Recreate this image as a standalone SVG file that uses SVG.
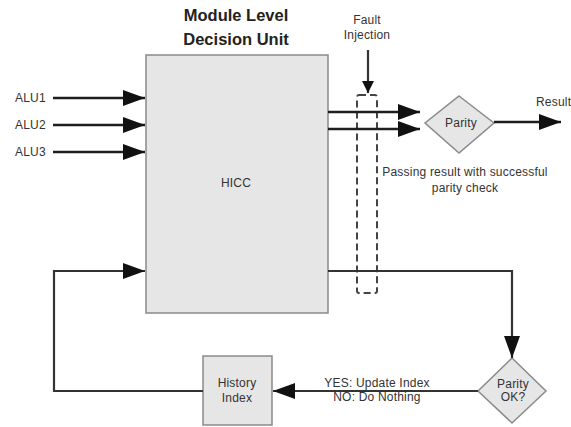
<svg xmlns="http://www.w3.org/2000/svg" width="571" height="427" viewBox="0 0 571 427">
  <style>
    .box { fill: #e6e6e6; stroke: #8a8a8a; stroke-width: 1.5; }
    .wire { fill: none; stroke: #1e1e1e; stroke-width: 2.5; }
    .thin { fill: none; stroke: #333; stroke-width: 2.2; }
    .dash { fill: none; stroke: #444; stroke-width: 2; stroke-dasharray: 7 4; }
    .lbl { font-family: "Liberation Sans", Arial, sans-serif; font-size: 12px; fill: #333; letter-spacing: 0.2px; }
    .title { font-family: "Liberation Sans", Arial, sans-serif; font-size: 16.5px; font-weight: bold; fill: #222; text-anchor: middle; }
    .mid { text-anchor: middle; }
  </style>
  <defs>
    <marker id="arrow" markerUnits="userSpaceOnUse" markerWidth="24" markerHeight="16" refX="22" refY="8" orient="auto">
      <path d="M0,0 L22,8 L0,16 Z" fill="#111"/>
    </marker>
    <marker id="arrowSm" markerUnits="userSpaceOnUse" markerWidth="14" markerHeight="14" refX="12" refY="6" orient="auto">
      <path d="M0,0 L12,6 L0,12 Z" fill="#111"/>
    </marker>
  </defs>

  <rect width="571" height="427" fill="#fff"/>

  <!-- title -->
  <text class="title" x="236" y="21">Module Level</text>
  <text class="title" x="236" y="45">Decision Unit</text>

  <!-- decision unit -->
  <g id="hicc">
    <rect class="box" x="146" y="55" width="182" height="258"/>
    <text class="lbl mid" x="236" y="187">HICC</text>
  </g>

  <!-- fault injection zone -->
  <g id="fault">
    <text class="lbl mid" x="367" y="24" font-size="11">Fault</text>
    <text class="lbl mid" x="367" y="39" font-size="11">Injection</text>
    <rect class="dash" x="357" y="95" width="20" height="198" rx="2"/>
  </g>

  <g id="parity">
    <polygon class="box" points="459,96 494,123 459,153 425,123"/>
    <text class="lbl mid" x="461" y="127">Parity</text>
  </g>

  <g id="parity-ok">
    <polygon class="box" points="512,358 546,391 512,423 478,391"/>
    <text class="lbl mid" x="513" y="388">Parity</text>
    <text class="lbl mid" x="513" y="401">OK?</text>
  </g>

  <g id="history">
    <rect class="box" x="203" y="356" width="69" height="69"/>
    <text class="lbl mid" x="237" y="387" font-size="11">History</text>
    <text class="lbl mid" x="237" y="402" font-size="11">Index</text>
  </g>

  <g id="labels">
    <text class="lbl" x="15" y="102" letter-spacing="1">ALU1</text>
    <text class="lbl" x="15" y="129" letter-spacing="1">ALU2</text>
    <text class="lbl" x="15" y="156" letter-spacing="1">ALU3</text>
    <text class="lbl" x="536" y="106">Result</text>
    <text class="lbl mid" x="465" y="176">Passing result with successful</text>
    <text class="lbl mid" x="465" y="192">parity check</text>
    <text class="lbl mid" x="377" y="387" letter-spacing="0.3">YES: Update Index</text>
    <text class="lbl mid" x="377" y="401" letter-spacing="0.3">NO: Do Nothing</text>
  </g>

  <g id="connectors">
    <line class="wire" x1="53" y1="98" x2="145" y2="98" marker-end="url(#arrow)"/>
    <line class="wire" x1="53" y1="125" x2="145" y2="125" marker-end="url(#arrow)"/>
    <line class="wire" x1="53" y1="152" x2="145" y2="152" marker-end="url(#arrow)"/>
    <line class="wire" x1="328" y1="112" x2="420" y2="112" marker-end="url(#arrow)"/>
    <line class="wire" x1="328" y1="129" x2="420" y2="129" marker-end="url(#arrow)"/>
    <line class="wire" x1="494" y1="122" x2="561" y2="122" marker-end="url(#arrow)"/>
    <line class="thin" x1="368" y1="50" x2="368" y2="93" marker-end="url(#arrowSm)"/>
    <polyline class="thin" points="328,271 512,271 512,358" marker-end="url(#arrow)"/>
    <line class="thin" x1="478" y1="391" x2="273" y2="391" marker-end="url(#arrow)"/>
    <polyline class="thin" points="203,391 54,391 54,271 145,271" marker-end="url(#arrow)"/>
  </g>
</svg>
